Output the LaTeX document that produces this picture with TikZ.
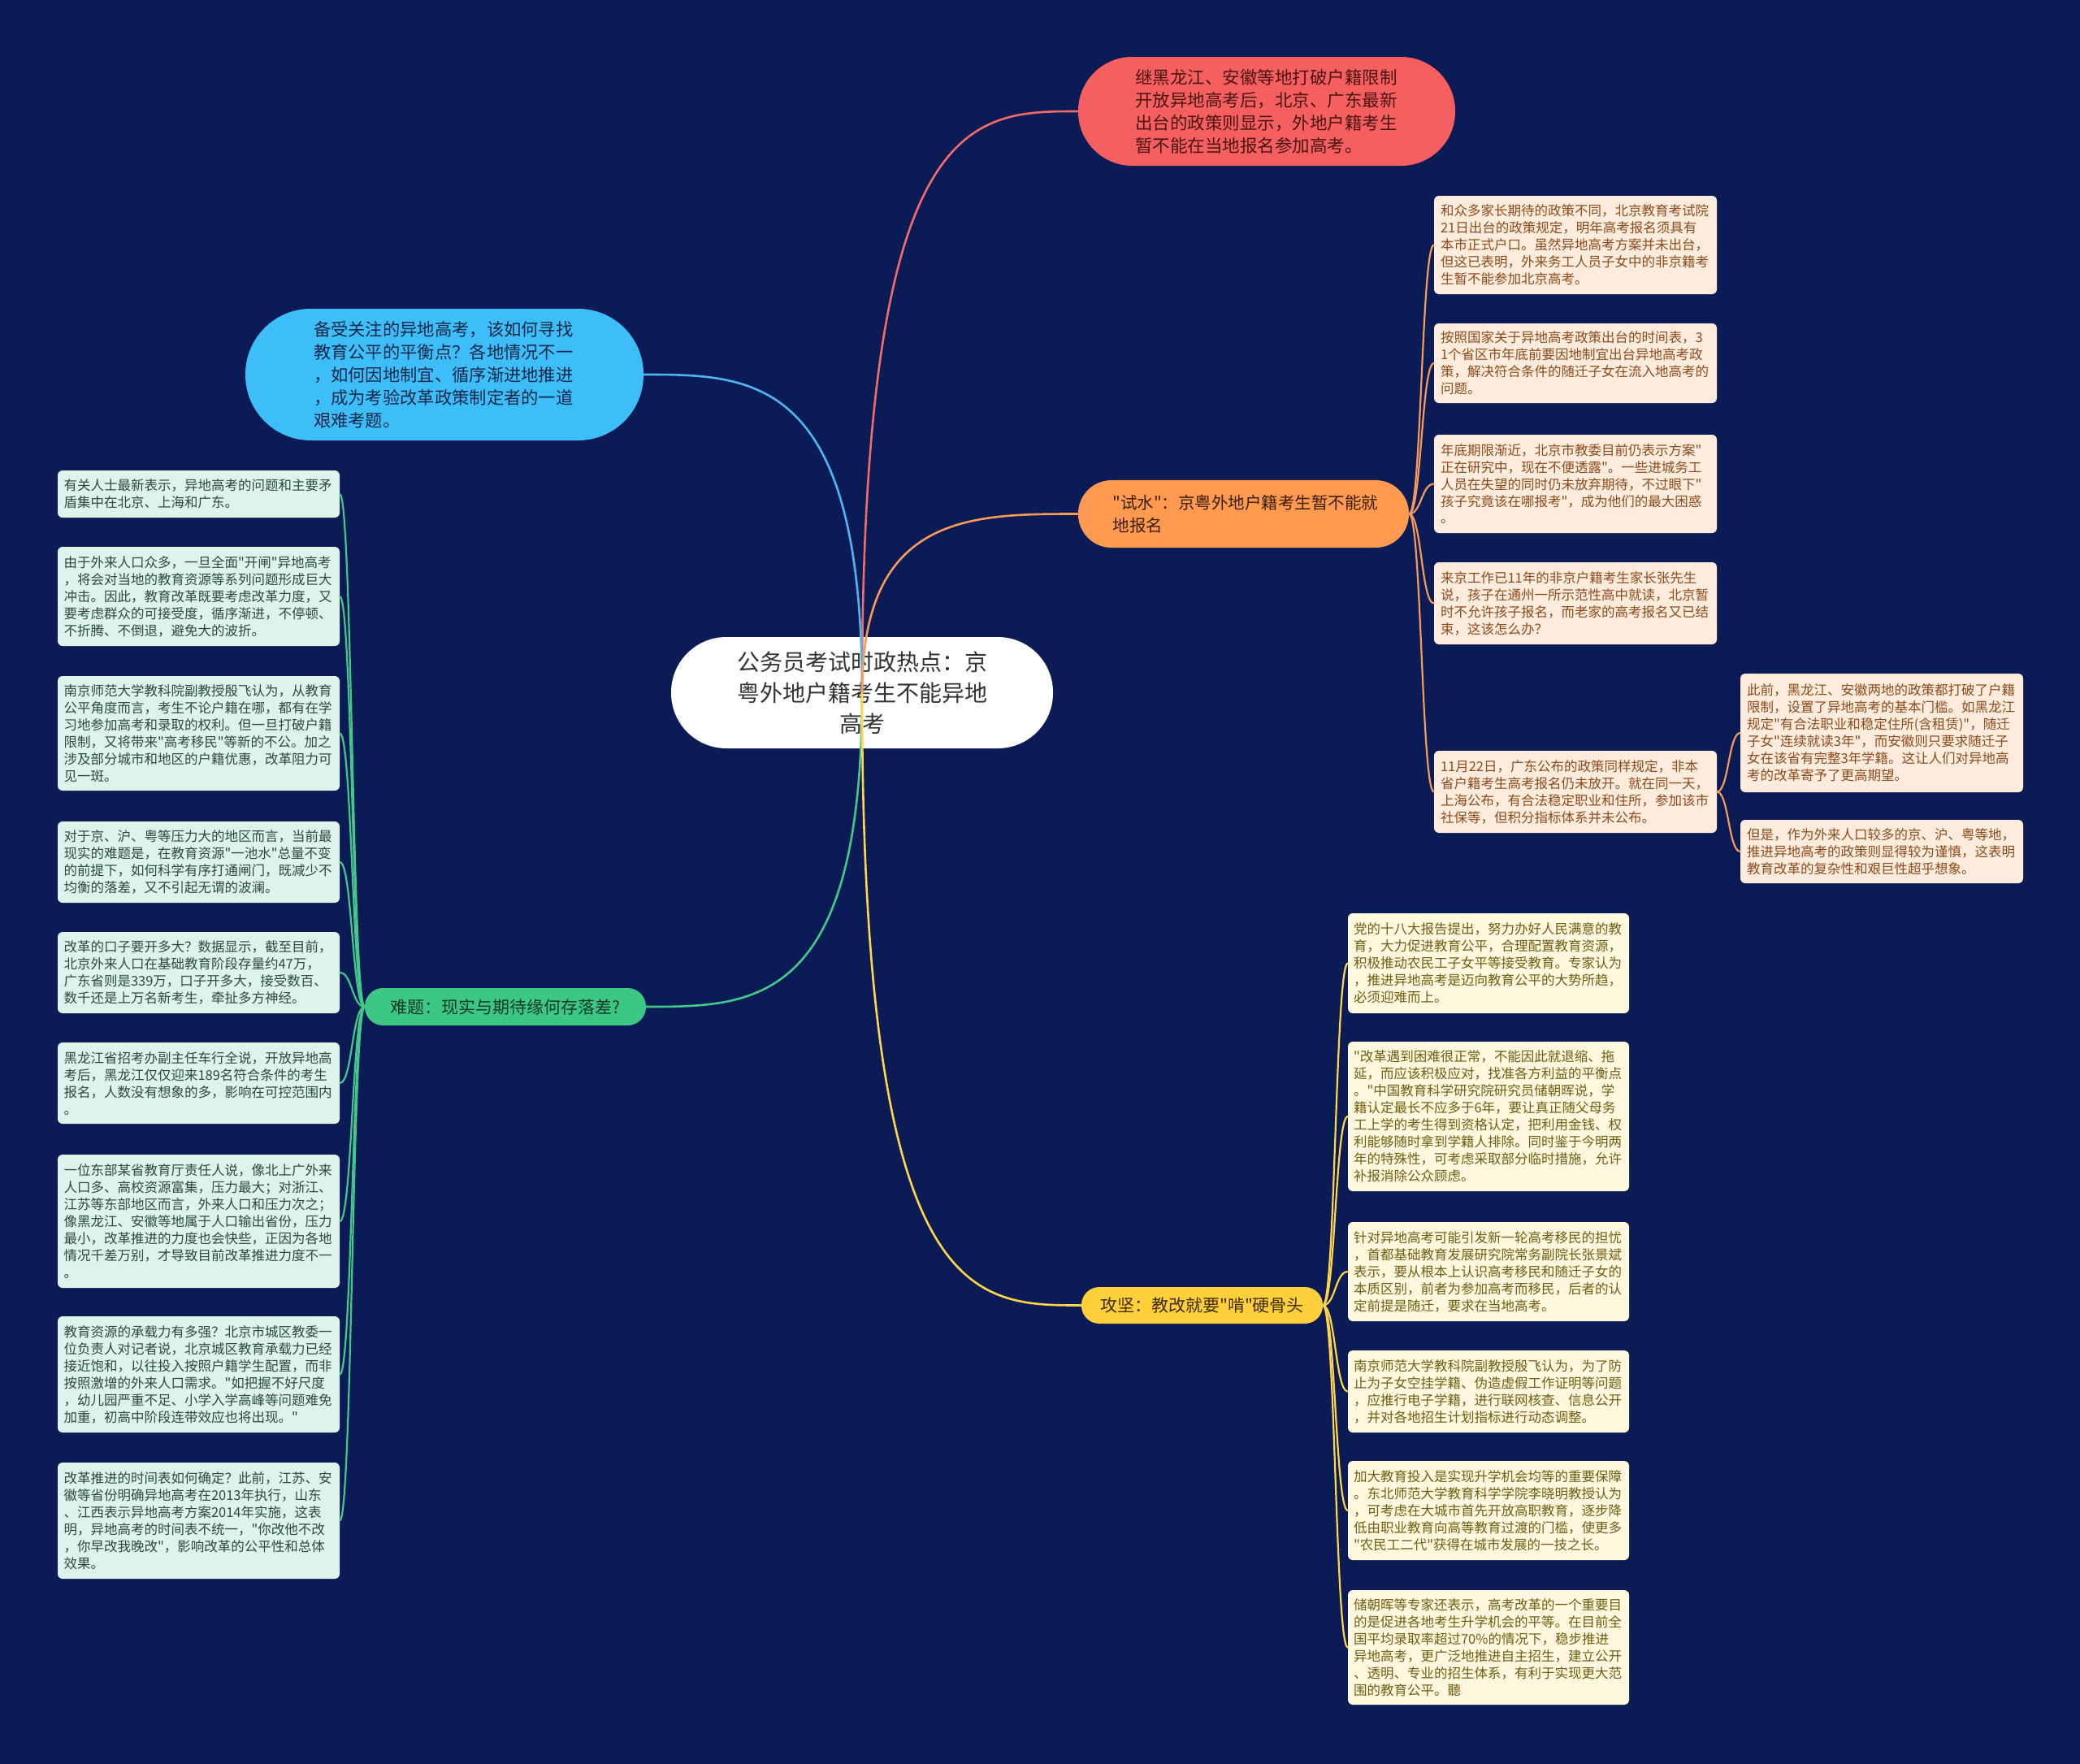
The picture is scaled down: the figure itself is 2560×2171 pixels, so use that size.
\documentclass[tikz,border=0pt]{standalone}
\usepackage{fontspec}
\newfontfamily\cjk{Noto Sans CJK SC}
\usetikzlibrary{calc}
\definecolor{bg}{HTML}{0B1B55}
\definecolor{redfill}{HTML}{F65F5F}
\definecolor{redtext}{HTML}{4A1414}
\definecolor{redline}{HTML}{F26B6B}
\definecolor{bluefill}{HTML}{3EBEF8}
\definecolor{bluetext}{HTML}{15284A}
\definecolor{blueline}{HTML}{4DB6F0}
\definecolor{orfill}{HTML}{FF9A50}
\definecolor{ortext}{HTML}{3A1E08}
\definecolor{orline}{HTML}{F59A5A}
\definecolor{grfill}{HTML}{3DC785}
\definecolor{grtext}{HTML}{123A2A}
\definecolor{grline}{HTML}{43C88A}
\definecolor{yefill}{HTML}{FFD03C}
\definecolor{yetext}{HTML}{3C2D00}
\definecolor{yeline}{HTML}{FFD54A}
\definecolor{oleaffill}{HTML}{FDECDE}
\definecolor{oleaftext}{HTML}{8C4B19}
\definecolor{yleaffill}{HTML}{FFF7DE}
\definecolor{yleaftext}{HTML}{6E5E12}
\definecolor{gleaffill}{HTML}{DEF4EA}
\definecolor{gleaftext}{HTML}{2A4A3E}
\newcommand\mysconn[3]{\draw[#1] let \p1=(#2), \p2=(#3) in (\p1) .. controls ({(\x1+\x2)/2},\y1) and ({(\x1+\x2)/2},\y2) .. (\p2);}
\newcommand\mybranch[3]{\draw[#1] let \p1=(#2), \p2=(#3) in (\p1) .. controls (\x1,\y2) and ({(\x1+\x2)/2},\y2) .. (\p2);}
\tikzset{
  leafbox/.style={draw=none, rounded corners=6pt, inner sep=0pt, align=left,
    font=\cjk\fontsize{16.5}{21}\selectfont, text width=332pt, minimum width=348pt},
  oleaf/.style={leafbox, fill=oleaffill, text=oleaftext},
  yleaf/.style={leafbox, fill=yleaffill, text=yleaftext, minimum width=346pt},
  gleaf/.style={leafbox, fill=gleaffill, text=gleaftext, minimum width=347pt},
  mainbox/.style={draw=none, inner sep=0pt, align=left},
  branch/.style={line width=2.6pt, line cap=round},
  subconn/.style={line width=2.2pt, line cap=round},
}
\begin{document}
\begin{tikzpicture}[x=1pt,y=-1pt]
\fill[bg] (0,0) rectangle (2560,2171);
\useasboundingbox (0,0) rectangle (2560,2171);

% main nodes
\node[mainbox, fill=white, rounded corners=68pt, minimum width=470pt, minimum height=137pt,
  text=black!80, text width=310pt, font=\cjk\fontsize{28}{38}\selectfont, align=center]
  (ctr) at (1061,852.5) {公务员考试时政热点：京\\粤外地户籍考生不能异地\\高考};

\node[mainbox, fill=redfill, rounded corners=66.5pt, minimum width=464pt, minimum height=134pt,
  text=redtext, text width=324pt, font=\cjk\fontsize{21.5}{28}\selectfont]
  (red) at (1559,137) {继黑龙江、安徽等地打破户籍限制\\开放异地高考后，北京、广东最新\\出台的政策则显示，外地户籍考生\\暂不能在当地报名参加高考。};

\node[mainbox, fill=bluefill, rounded corners=80.5pt, minimum width=490pt, minimum height=162pt,
  text=bluetext, text width=322pt, font=\cjk\fontsize{21.3}{28}\selectfont]
  (blu) at (547,461) {备受关注的异地高考，该如何寻找\\教育公平的平衡点？各地情况不一\\，如何因地制宜、循序渐进地推进\\，成为考验改革政策制定者的一道\\艰难考题。};

\node[mainbox, fill=orfill, rounded corners=41pt, minimum width=407pt, minimum height=83pt,
  text=ortext, text width=322pt, font=\cjk\fontsize{20.5}{28}\selectfont]
  (org) at (1530.5,632.5) {"试水"：京粤外地户籍考生暂不能就\\地报名};

\node[mainbox, fill=grfill, rounded corners=22.5pt, minimum width=346pt, minimum height=46pt,
  text=grtext, font=\cjk\fontsize{21}{28}\selectfont]
  (grn) at (622,1239) {难题：现实与期待缘何存落差?};

\node[mainbox, fill=yefill, rounded corners=22pt, minimum width=297pt, minimum height=45pt,
  text=yetext, font=\cjk\fontsize{21}{28}\selectfont]
  (yel) at (1479.5,1606.5) {攻坚：教改就要"啃"硬骨头};

% orange leaves
\node[oleaf, minimum height=121pt] (o1) at (1939,301.5) {和众多家长期待的政策不同，北京教育考试院\\21日出台的政策规定，明年高考报名须具有\\本市正式户口。虽然异地高考方案并未出台，\\但这已表明，外来务工人员子女中的非京籍考\\生暂不能参加北京高考。};
\node[oleaf, minimum height=98pt] (o2) at (1939,447) {按照国家关于异地高考政策出台的时间表，3\\1个省区市年底前要因地制宜出台异地高考政\\策，解决符合条件的随迁子女在流入地高考的\\问题。};
\node[oleaf, minimum height=121pt] (o3) at (1939,595.5) {年底期限渐近，北京市教委目前仍表示方案"\\正在研究中，现在不便透露"。一些进城务工\\人员在失望的同时仍未放弃期待，不过眼下"\\孩子究竟该在哪报考"，成为他们的最大困惑\\。};
\node[oleaf, minimum height=101pt] (o4) at (1939,742.5) {来京工作已11年的非京户籍考生家长张先生\\说，孩子在通州一所示范性高中就读，北京暂\\时不允许孩子报名，而老家的高考报名又已结\\束，这该怎么办？};
\node[oleaf, minimum height=101pt] (o5) at (1939,974.5) {11月22日，广东公布的政策同样规定，非本\\省户籍考生高考报名仍未放开。就在同一天，\\上海公布，有合法稳定职业和住所，参加该市\\社保等，但积分指标体系并未公布。};
\node[oleaf, minimum height=146pt] (o5a) at (2316,902) {此前，黑龙江、安徽两地的政策都打破了户籍\\限制，设置了异地高考的基本门槛。如黑龙江\\规定"有合法职业和稳定住所(含租赁)"，随迁\\子女"连续就读3年"，而安徽则只要求随迁子\\女在该省有完整3年学籍。这让人们对异地高\\考的改革寄予了更高期望。};
\node[oleaf, minimum height=78pt] (o5b) at (2316,1048) {但是，作为外来人口较多的京、沪、粤等地，\\推进异地高考的政策则显得较为谨慎，这表明\\教育改革的复杂性和艰巨性超乎想象。};

% yellow leaves
\node[yleaf, minimum height=123pt] (y1) at (1832,1185.5) {党的十八大报告提出，努力办好人民满意的教\\育，大力促进教育公平，合理配置教育资源，\\积极推动农民工子女平等接受教育。专家认为\\，推进异地高考是迈向教育公平的大势所趋，\\必须迎难而上。};
\node[yleaf, minimum height=184pt] (y2) at (1832,1374) {"改革遇到困难很正常，不能因此就退缩、拖\\延，而应该积极应对，找准各方利益的平衡点\\。"中国教育科学研究院研究员储朝晖说，学\\籍认定最长不应多于6年，要让真正随父母务\\工上学的考生得到资格认定，把利用金钱、权\\利能够随时拿到学籍人排除。同时鉴于今明两\\年的特殊性，可考虑采取部分临时措施，允许\\补报消除公众顾虑。};
\node[yleaf, minimum height=122pt] (y3) at (1832,1565) {针对异地高考可能引发新一轮高考移民的担忧\\，首都基础教育发展研究院常务副院长张景斌\\表示，要从根本上认识高考移民和随迁子女的\\本质区别，前者为参加高考而移民，后者的认\\定前提是随迁，要求在当地高考。};
\node[yleaf, minimum height=101pt] (y4) at (1832,1712.5) {南京师范大学教科院副教授殷飞认为，为了防\\止为子女空挂学籍、伪造虚假工作证明等问题\\，应推行电子学籍，进行联网核查、信息公开\\，并对各地招生计划指标进行动态调整。};
\node[yleaf, minimum height=122pt] (y5) at (1832,1859) {加大教育投入是实现升学机会均等的重要保障\\。东北师范大学教育科学学院李晓明教授认为\\，可考虑在大城市首先开放高职教育，逐步降\\低由职业教育向高等教育过渡的门槛，使更多\\"农民工二代"获得在城市发展的一技之长。};
\node[yleaf, minimum height=141pt] (y6) at (1832,2027.5) {储朝晖等专家还表示，高考改革的一个重要目\\的是促进各地考生升学机会的平等。在目前全\\国平均录取率超过70\%的情况下，稳步推进\\异地高考，更广泛地推进自主招生，建立公开\\、透明、专业的招生体系，有利于实现更大范\\围的教育公平。聽};

% green leaves
\node[gleaf, minimum height=58pt] (g1) at (244.5,608) {有关人士最新表示，异地高考的问题和主要矛\\盾集中在北京、上海和广东。};
\node[gleaf, minimum height=122pt] (g2) at (244.5,734) {由于外来人口众多，一旦全面"开闸"异地高考\\，将会对当地的教育资源等系列问题形成巨大\\冲击。因此，教育改革既要考虑改革力度，又\\要考虑群众的可接受度，循序渐进，不停顿、\\不折腾、不倒退，避免大的波折。};
\node[gleaf, minimum height=141pt] (g3) at (244.5,902.5) {南京师范大学教科院副教授殷飞认为，从教育\\公平角度而言，考生不论户籍在哪，都有在学\\习地参加高考和录取的权利。但一旦打破户籍\\限制，又将带来"高考移民"等新的不公。加之\\涉及部分城市和地区的户籍优惠，改革阻力可\\见一斑。};
\node[gleaf, minimum height=100pt] (g4) at (244.5,1061) {对于京、沪、粤等压力大的地区而言，当前最\\现实的难题是，在教育资源"一池水"总量不变\\的前提下，如何科学有序打通闸门，既减少不\\均衡的落差，又不引起无谓的波澜。};
\node[gleaf, minimum height=100pt] (g5) at (244.5,1197) {改革的口子要开多大？数据显示，截至目前，\\北京外来人口在基础教育阶段存量约47万，\\广东省则是339万，口子开多大，接受数百、\\数千还是上万名新考生，牵扯多方神经。};
\node[gleaf, minimum height=100pt] (g6) at (244.5,1333) {黑龙江省招考办副主任车行全说，开放异地高\\考后，黑龙江仅仅迎来189名符合条件的考生\\报名，人数没有想象的多，影响在可控范围内\\。};
\node[gleaf, minimum height=164pt] (g7) at (244.5,1503) {一位东部某省教育厅责任人说，像北上广外来\\人口多、高校资源富集，压力最大；对浙江、\\江苏等东部地区而言，外来人口和压力次之；\\像黑龙江、安徽等地属于人口输出省份，压力\\最小，改革推进的力度也会快些，正因为各地\\情况千差万别，才导致目前改革推进力度不一\\。};
\node[gleaf, minimum height=143pt] (g8) at (244.5,1691.5) {教育资源的承载力有多强？北京市城区教委一\\位负责人对记者说，北京城区教育承载力已经\\接近饱和，以往投入按照户籍学生配置，而非\\按照激增的外来人口需求。"如把握不好尺度\\，幼儿园严重不足、小学入学高峰等问题难免\\加重，初高中阶段连带效应也将出现。"};
\node[gleaf, minimum height=143pt] (g9) at (244.5,1871.5) {改革推进的时间表如何确定？此前，江苏、安\\徽等省份明确异地高考在2013年执行，山东\\、江西表示异地高考方案2014年实施，这表\\明，异地高考的时间表不统一，"你改他不改\\，你早改我晚改"，影响改革的公平性和总体\\效果。};

% main branches
\mybranch{branch, redline}{ctr.center}{red.west}
\mybranch{branch, blueline}{ctr.center}{blu.east}
\mybranch{branch, orline}{ctr.center}{org.west}
\mybranch{branch, grline}{ctr.center}{grn.east}
\mybranch{branch, yeline}{ctr.center}{yel.west}

% orange sub connectors
\foreach \c in {o1,o2,o3,o4,o5} {\mysconn{subconn, orline}{org.east}{\c.west}}
\foreach \c in {o5a,o5b} {\mysconn{subconn, orline}{o5.east}{\c.west}}
% yellow
\foreach \c in {y1,y2,y3,y4,y5,y6} {\mysconn{subconn, yeline}{yel.east}{\c.west}}
% green
\foreach \c in {g1,g2,g3,g4,g5,g6,g7,g8,g9} {\mysconn{subconn, grline}{grn.west}{\c.east}}
\end{tikzpicture}
\end{document}
